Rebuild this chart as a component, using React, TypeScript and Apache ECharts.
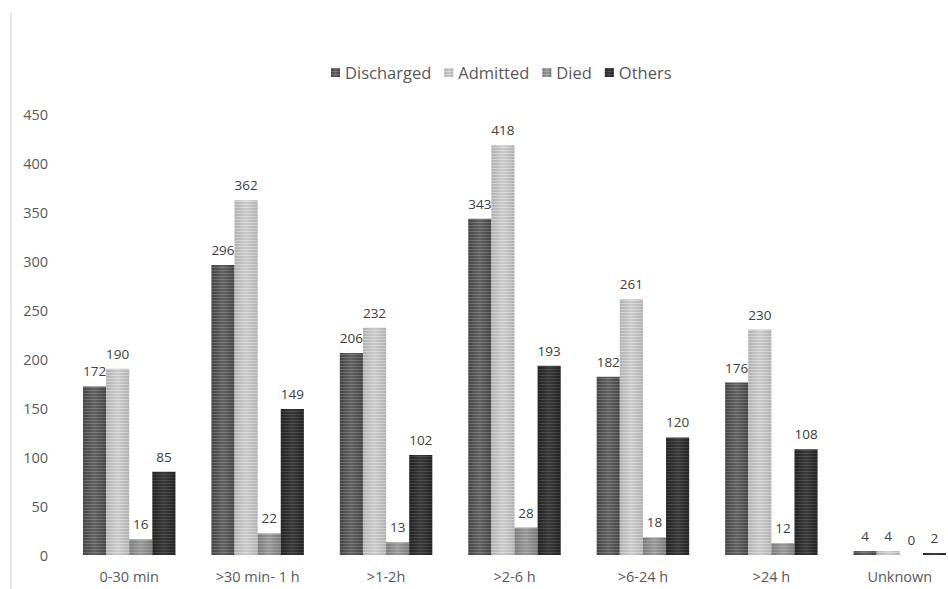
import React, { useEffect, useRef } from "react";
import * as echarts from "echarts";

const categories = ["0-30 min", ">30 min- 1 h", ">1-2h", ">2-6 h", ">6-24 h", ">24 h", "Unknown"];
const discharged = [172, 296, 206, 343, 182, 176, 4];
const admitted = [190, 362, 232, 418, 261, 230, 4];
const died = [16, 22, 13, 28, 18, 12, 0];
const others = [85, 149, 102, 193, 120, 108, 2];
const yTicks = { min: 0, max: 450, interval: 50 };

const grad = (edge: string, mid: string) =>
  new echarts.graphic.LinearGradient(0, 0, 1, 0, [
    { offset: 0, color: edge },
    { offset: 0.5, color: mid },
    { offset: 1, color: edge },
  ]);

const stripe = (c: string) => ({
  symbol: "rect",
  symbolSize: 1,
  dashArrayX: [1, 0],
  dashArrayY: [1, 2],
  color: c,
});

export default function App() {
  const ref = useRef<HTMLDivElement>(null);
  useEffect(() => {
    const chart = echarts.init(ref.current!, null, { renderer: "svg" });
    const font = "'Open Sans', 'Noto Sans', sans-serif";
    const mk = (name: string, data: number[], fill: any, stripeColor: string) => ({
      name,
      type: "bar",
      data,
      barGap: "0%",
      barCategoryGap: "28%",
      itemStyle: { color: fill, decal: stripe(stripeColor) },
      label: {
        show: true,
        position: "top",
        distance: 8,
        color: "#404040",
        fontSize: 13.5,
        fontFamily: font,
      },
    });
    chart.setOption({
      animation: false,
      textStyle: { fontFamily: font },
      legend: {
        top: 59,
        left: 326,
        itemWidth: 9,
        itemHeight: 9,
        itemGap: 13,
        icon: "rect",
        textStyle: { color: "#595959", fontSize: 16.5, fontFamily: font },
        data: ["Discharged", "Admitted", "Died", "Others"],
      },
      grid: { left: 65, right: 0, top: 114, bottom: 34, containLabel: false },
      xAxis: {
        type: "category",
        data: categories,
        axisLine: { show: false },
        axisTick: { show: false },
        axisLabel: { color: "#595959", fontSize: 14.5, margin: 14, fontFamily: font },
      },
      yAxis: {
        type: "value",
        ...yTicks,
        axisLine: { show: false },
        axisTick: { show: false },
        splitLine: { show: false },
        axisLabel: { color: "#595959", fontSize: 14.5, margin: 17, fontFamily: font },
      },
      graphic: [
        {
          type: "line",
          shape: { x1: 11, y1: 12, x2: 11, y2: 589 },
          style: { stroke: "#d0d0d0", lineWidth: 1 },
        },
      ],
      series: [
        mk("Discharged", discharged, grad("#444444", "#626262"), "rgba(255,255,255,0.18)"),
        mk("Admitted", admitted, grad("#b0b0b0", "#cacaca"), "rgba(255,255,255,0.35)"),
        mk("Died", died, grad("#7a7a7a", "#989898"), "rgba(255,255,255,0.2)"),
        mk("Others", others, grad("#222222", "#3a3a3a"), "rgba(255,255,255,0.12)"),
      ],
    });
    return () => chart.dispose();
  }, []);
  return (
    <div
      style={{ position: "absolute", left: 0, top: 0, width: 948, height: 589, overflow: "hidden", background: "#fff" }}
    >
      <div ref={ref} style={{ width: 964, height: 589 }} />
    </div>
  );
}
